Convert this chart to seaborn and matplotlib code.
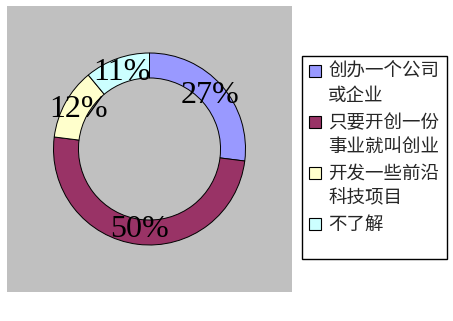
import matplotlib
matplotlib.use("Agg")
import matplotlib.pyplot as plt
import seaborn as sns
from matplotlib.patches import Rectangle
from matplotlib.font_manager import FontProperties

categories = ["创办一个公司\n或企业", "只要开创一份\n事业就叫创业", "开发一些前沿\n科技项目", "不了解"]
values = [27, 50, 12, 11]
colors = ["#9999FF", "#993366", "#FFFFCC", "#CCFFFF"]

sns.set_style("white")
plt.rcParams['font.family'] = ['Noto Sans CJK SC', 'DejaVu Sans']

fig = plt.figure(figsize=(4.53, 3.21), dpi=100)
W, H = 453, 321
ax = fig.add_axes([7 / W, 29 / H, 285 / W, 286 / H])

wedges, texts, autotexts = ax.pie(
    values, colors=colors, startangle=90, counterclock=False,
    autopct='%1.0f%%', pctdistance=0.845,
    wedgeprops=dict(width=0.26, edgecolor='black', linewidth=0.7),
    textprops=dict(family='Liberation Serif', fontsize=23, color='black'),
)
ax.set_aspect('auto')
ax.set_xlim(-142.5 / 96, 142.5 / 96)
ax.set_ylim(-143 / 96, 143 / 96)
ax.set_frame_on(True)
for s in ax.spines.values():
    s.set_visible(False)
ax.set_facecolor('#C0C0C0')

# legend box
fig.patches.append(Rectangle((302 / W, 1 - 259 / H), 145 / W, 203 / H,
                             transform=fig.transFigure, facecolor='white',
                             edgecolor='black', linewidth=1.0, zorder=1))

fs = 13.3
fs_px = fs * fig.dpi / 72.0
target_step = 24.0      # px between lines inside one entry
target_pitch = 51.0     # px between first lines of consecutive entries
target_center = 72.0    # px from top: centre of first legend line


def make_legend(ls, lsp, top):
    lg = fig.legend(wedges, categories, loc='upper left',
                    bbox_to_anchor=(309 / W, 1 - top / H), frameon=False,
                    prop=FontProperties(family='Noto Sans CJK SC', size=fs),
                    handlelength=0.65, handleheight=0.65, handletextpad=0.38,
                    labelspacing=lsp, borderpad=0.0, borderaxespad=0.0)
    for t in lg.get_texts():
        t.set_linespacing(ls)
    return lg


ls, lsp, top = 1.24, 0.42, 62.0
leg = None
for _ in range(4):
    if leg is not None:
        leg.remove()
    leg = make_legend(ls, lsp, top)
    fig.canvas.draw()
    r = fig.canvas.get_renderer()
    ext = [t.get_window_extent(r) for t in leg.get_texts()]
    one = ext[3].height
    step = ext[0].height - one
    pitch = ext[0].y1 - ext[1].y1
    center = H - ext[0].y1 + one / 2.0
    ls *= target_step / step
    lsp += (target_pitch - pitch) / fs_px
    top += target_center - center

# align each legend square with the first line of its label
fig.canvas.draw()
r = fig.canvas.get_renderer()
one = leg.get_texts()[3].get_window_extent(r).height
for h, t in zip(leg.legend_handles, leg.get_texts()):
    te = t.get_window_extent(r)
    he = h.get_window_extent(r)
    want = te.y1 - one / 2.0 + 1.0
    have = (he.y0 + he.y1) / 2.0
    h.set_y(h.get_y() + (want - have) * 72.0 / fig.dpi)
    h.set_edgecolor('black')
    h.set_linewidth(0.8)

fig.savefig("out.png", dpi=100, facecolor='white')
